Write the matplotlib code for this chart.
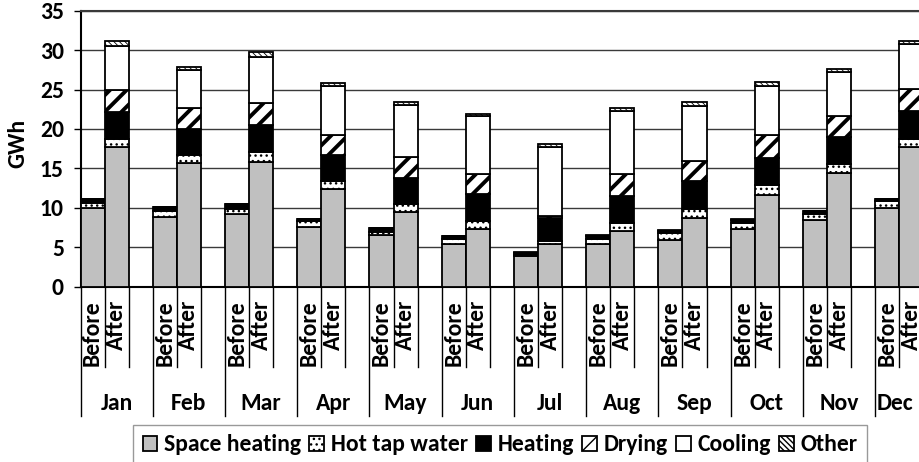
import numpy as np
import matplotlib
matplotlib.use('Agg')
from matplotlib import pyplot as plt
from matplotlib.lines import Line2D

plt.rcParams['font.family'] = ['Carlito', 'DejaVu Sans']
plt.rcParams['font.weight'] = 'bold'

months = ['Jan', 'Feb', 'Mar', 'Apr', 'May', 'Jun',
          'Jul', 'Aug', 'Sep', 'Oct', 'Nov', 'Dec']
phases = ['Before', 'After']
series = ['Space heating', 'Hot tap water', 'Heating', 'Drying', 'Cooling', 'Other']

# GWh per month, before and after
before = {
    'Space heating': [10.0, 8.88, 9.23, 7.58, 6.56, 5.38, 3.9, 5.42, 5.93, 7.36, 8.5, 9.95],
    'Hot tap water': [0.66, 0.69, 0.67, 0.72, 0.42, 0.67, 0.15, 0.67, 0.84, 0.76, 0.69, 0.95],
    'Heating':       [0.45, 0.5, 0.55, 0.25, 0.47, 0.35, 0.26, 0.34, 0.33, 0.38, 0.41, 0.23],
    'Drying':        [0] * 12,
    'Cooling':       [0] * 12,
    'Other':         [0.05, 0.05, 0.05, 0.05, 0.05, 0.05, 0.05, 0.15, 0.05, 0.1, 0.05, 0.05],
}
after = {
    'Space heating': [17.69, 15.66, 15.8, 12.4, 9.48, 7.28, 5.38, 7.07, 8.72, 11.6, 14.43, 17.69],
    'Hot tap water': [1.01, 1.09, 1.3, 1.0, 1.02, 1.06, 0.46, 1.05, 1.14, 1.27, 1.14, 1.09],
    'Heating':       [3.5, 3.25, 3.46, 3.3, 3.25, 3.46, 2.84, 3.43, 3.55, 3.46, 3.43, 3.47],
    'Drying':        [2.76, 2.6, 2.71, 2.5, 2.71, 2.5, 0.29, 2.75, 2.5, 2.92, 2.62, 2.84],
    'Cooling':       [5.59, 4.86, 5.83, 6.27, 6.64, 7.3, 8.76, 8.0, 7.02, 6.22, 5.63, 5.71],
    'Other':         [0.59, 0.42, 0.64, 0.33, 0.34, 0.35, 0.34, 0.38, 0.51, 0.51, 0.34, 0.42],
}

styles = {
    'Space heating': dict(facecolor='#c0c0c0', hatch=None, hlw=1.0),
    'Hot tap water': dict(facecolor='white', hatch='...', hlw=1.0),
    'Heating':       dict(facecolor='black', hatch=None, hlw=1.0),
    'Drying':        dict(facecolor='white', hatch='//', hlw=2.8),
    'Cooling':       dict(facecolor='white', hatch=None, hlw=1.0),
    'Other':         dict(facecolor='white', hatch='\\\\\\\\\\\\', hlw=0.6),
}

fs = 17
W, H = 919, 462
x0, y0, slot, yh = 80.5, 286.7, 24.08, 276.0

fig = plt.figure(figsize=(W / 100, H / 100), dpi=100)
ax = fig.add_axes([x0 / W, (H - y0) / H, 36 * slot / W, yh / H])

xb = 3 * np.arange(len(months))
xa = xb + 1

handles = []
for xs, data in ((xb, before), (xa, after)):
    bottom = np.zeros(len(months))
    for s in series:
        st = styles[s]
        vals = np.array(data[s], dtype=float)
        with plt.rc_context({'hatch.linewidth': st['hlw']}):
            bars = ax.bar(xs, vals, width=1.0, bottom=bottom, facecolor=st['facecolor'],
                          edgecolor='black', linewidth=1.3, hatch=st['hatch'], zorder=3)
        for b in bars:
            if hasattr(b, 'set_hatch_linewidth'):
                b.set_hatch_linewidth(st['hlw'])
        bottom = bottom + vals
        if xs is xb:
            handles.append(bars)

ax.set_xlim(-0.5, 35.5)
ax.set_ylim(0, 35)
ax.set_yticks(np.arange(0, 36, 5))
ax.yaxis.grid(True, color='#3a3a3a', linewidth=1.0, zorder=0)
ax.set_axisbelow(True)
ax.tick_params(axis='y', direction='out', length=5, width=1.0, labelsize=fs, pad=7)
ax.tick_params(axis='x', bottom=False, labelbottom=False)
for lab in ax.get_yticklabels():
    lab.set_fontweight('bold')
ax.spines['left'].set_linewidth(1.5)
ax.spines['bottom'].set_linewidth(1.5)
ax.spines['top'].set_color('#3a3a3a')
ax.spines['top'].set_linewidth(1.5)
ax.spines['right'].set_visible(False)
fig.text(17.5 / W, 1 - 143 / H, 'GWh', rotation=90, ha='center', va='center',
         fontsize=fs, fontweight='bold')

# multi-level category axis
tr = ax.get_xaxis_transform()
short_end = -(367 - y0) / yh
long_end = -(416 - y0) / yh
for k in range(36):
    yend = long_end if k % 3 == 0 else short_end
    ax.add_line(Line2D([k - 0.5, k - 0.5], [0, yend], transform=tr, color='black',
                       linewidth=1.0, clip_on=False))
for i, m in enumerate(months):
    for j, p in enumerate(phases):
        ax.text(3 * i + j, -(300 - y0) / yh, p, transform=tr, rotation=90,
                ha='center', va='top', fontsize=fs, fontweight='bold')
    if i == len(months) - 1:
        ax.text(3 * i - 0.5 + 0.08, -(403 - y0) / yh, m, transform=tr, ha='left',
                va='center', fontsize=fs, fontweight='bold')
    else:
        ax.text(3 * i + 1, -(403 - y0) / yh, m, transform=tr, ha='center',
                va='center', fontsize=fs, fontweight='bold')

leg = fig.legend(handles, series, loc='upper left', bbox_to_anchor=(133.3 / W, 1 - 425 / H),
                 ncol=6, frameon=True, fancybox=False, edgecolor='#808080',
                 handlelength=0.6, handleheight=0.6, handletextpad=0.3,
                 columnspacing=0.36, borderpad=0.4, borderaxespad=0, fontsize=fs)
leg.get_frame().set_linewidth(1.0)
for t in leg.get_texts():
    t.set_fontweight('bold')

fig.savefig('out.png', dpi=100)
plt.close(fig)
